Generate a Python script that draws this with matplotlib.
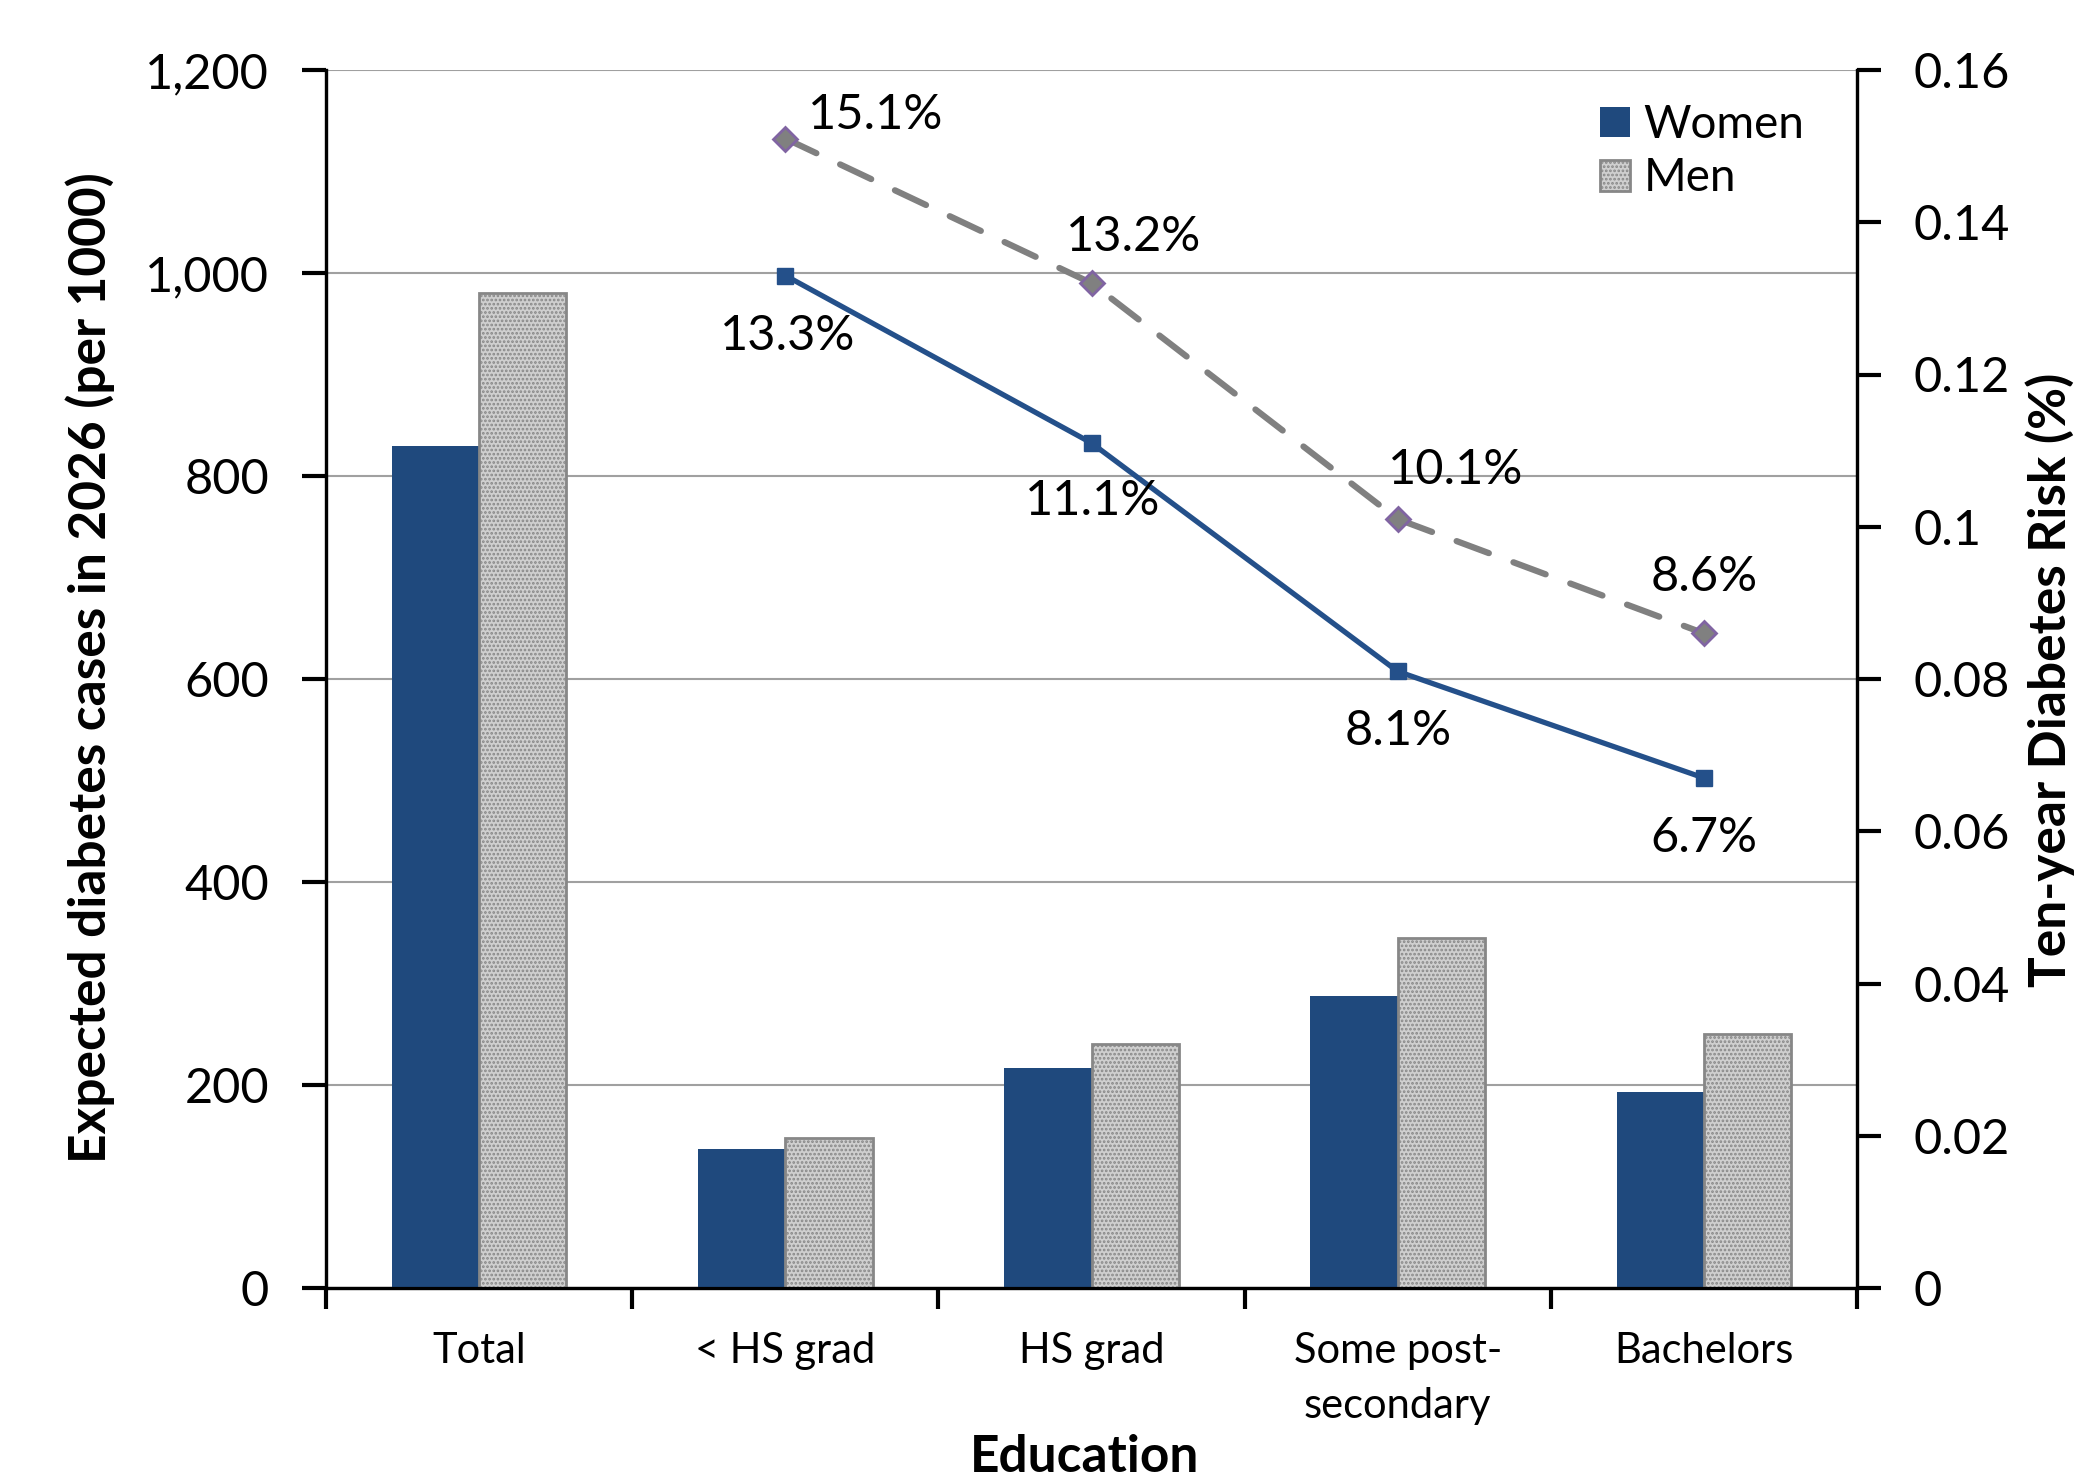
import matplotlib
matplotlib.use("Agg")
import matplotlib.pyplot as plt
import numpy as np
from matplotlib.ticker import FuncFormatter, FixedLocator

# ---------------- data ----------------
categories = ['Total', '< HS grad', 'HS grad', 'Some post-\nsecondary', 'Bachelors']
women_cases = [830, 137, 217, 288, 193]
men_cases = [980, 148, 240, 345, 250]
risk_categories = ['< HS grad', 'HS grad', 'Some post-\nsecondary', 'Bachelors']
women_risk = [0.133, 0.111, 0.081, 0.067]
men_risk = [0.151, 0.132, 0.101, 0.086]
left_ticks = [0, 200, 400, 600, 800, 1000, 1200]
right_ticks = [0, 0.02, 0.04, 0.06, 0.08, 0.10, 0.12, 0.14, 0.16]

# ---------------- style ----------------
FONT = ['Lato', 'DejaVu Sans']
plt.rcParams['font.family'] = FONT
plt.rcParams['hatch.linewidth'] = 1.3

women_bar = '#1F497D'
women_line = '#24508A'
men_face = '#cfcfcf'
men_edge = '#878787'
men_line = '#808080'
men_marker_edge = '#8064A2'

DPI = 100
fig = plt.figure(figsize=(20.75, 14.82), dpi=DPI)
W, H = 2075, 1482
L, R, T, B = 326, 1857, 70, 1288
ax = fig.add_axes([L / W, 1 - B / H, (R - L) / W, (B - T) / H])
ax2 = ax.twinx()

x = np.arange(len(categories))
bw = 0.285
ax.bar(x - bw / 2, women_cases, bw, color=women_bar, edgecolor=women_bar,
       linewidth=0, label='Women', zorder=3)
ax.bar(x + bw / 2, men_cases, bw, facecolor=men_face, edgecolor=men_edge,
       hatch='....', linewidth=2, label='Men', zorder=3)

ax.set_xlim(-0.5, len(categories) - 0.5)
ax.set_ylim(0, 1200)
ax.yaxis.set_major_locator(FixedLocator(left_ticks))
ax.yaxis.set_major_formatter(FuncFormatter(lambda v, p: f'{v:,.0f}'))
ax.grid(axis='y', color='#a0a0a0', linewidth=1.5, zorder=0)
ax.set_axisbelow(True)

# x ticks: marks at boundaries, labels at centres
ax.set_xticks(np.arange(-0.5, len(categories)), labels=[''] * (len(categories) + 1))
ax.set_xticks(x, labels=categories, minor=True)
ax.tick_params(axis='x', which='major', length=15, width=3, direction='out')
ax.tick_params(axis='x', which='minor', length=0, pad=32, labelsize=30)
for lab in ax.get_xticklabels(minor=True):
    lab.set_linespacing(1.55)

ax.tick_params(axis='y', which='major', length=17, width=3, direction='out',
               labelsize=35, pad=24)

# risk lines on right axis
rx = [categories.index(c) for c in risk_categories]
ax2.plot(rx, men_risk, color=men_line, linewidth=4.5, linestyle=(0, (5.5, 4.2)),
         dash_capstyle='round', marker='D', markersize=12,
         markerfacecolor=men_line, markeredgecolor=men_marker_edge,
         markeredgewidth=2, zorder=4)
ax2.plot(rx, women_risk, color=women_line, linewidth=3.8, marker='s',
         markersize=12, markerfacecolor=women_line, markeredgecolor=women_line,
         zorder=5)
ax2.set_ylim(0, 0.16)
ax2.yaxis.set_major_locator(FixedLocator(right_ticks))
ax2.yaxis.set_major_formatter(FuncFormatter(lambda v, p: f'{round(v, 4):g}'))
ax2.tick_params(axis='y', which='major', length=17, width=3, direction='out',
                labelsize=35, pad=24)

# data labels (offsets in pixels)
women_offsets = [(2, -60), (1, -58), (0, -60), (0, -60)]
men_offsets = [(90, 24), (42, 46), (58, 49), (0, 56)]
for xi, v, off in zip(rx, women_risk, women_offsets):
    ax2.annotate(f'{v * 100:.1f}%', (xi, v), xytext=off, textcoords='offset pixels',
                 ha='center', va='center', fontsize=35, zorder=6)
for xi, v, off in zip(rx, men_risk, men_offsets):
    ax2.annotate(f'{v * 100:.1f}%', (xi, v), xytext=off, textcoords='offset pixels',
                 ha='center', va='center', fontsize=35, zorder=6)

for a in (ax, ax2):
    a.spines['top'].set_visible(False)
    for s in ('left', 'right', 'bottom'):
        a.spines[s].set_linewidth(2.3)
        a.spines[s].set_color('black')

# axis labels
fig.text(90 / W, 1 - 668 / H, 'Expected diabetes cases in 2026 (per 1000)',
         fontsize=37, fontweight='bold', rotation=90, ha='center', va='center')
fig.text(2050 / W, 1 - 680 / H, 'Ten-year Diabetes Risk (%)',
         fontsize=37, fontweight='bold', rotation=90, ha='center', va='center')
fig.text(1085 / W, 1 - 1458 / H, 'Education', fontsize=37, fontweight='bold',
         ha='center', va='center')

# legend
leg = ax.legend(loc='upper left', bbox_to_anchor=(1600 / W, 1 - 104 / H),
                bbox_transform=fig.transFigure, frameon=False, fontsize=33,
                handlelength=0.65, handleheight=0.65, handletextpad=0.3,
                labelspacing=0.25, borderpad=0, borderaxespad=0)
ax2.set_zorder(ax.get_zorder() + 1)
ax.patch.set_visible(True)
ax2.patch.set_visible(False)

fig.savefig('out.png', dpi=DPI)
